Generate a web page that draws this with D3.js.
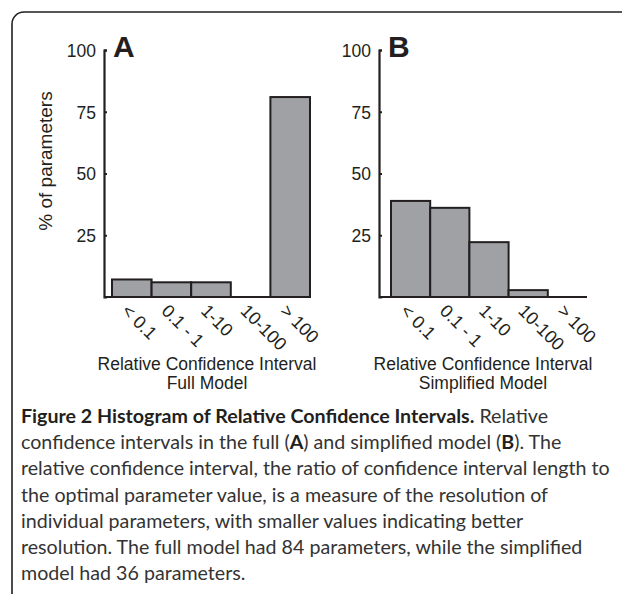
<!DOCTYPE html>
<html>
<head>
<meta charset="utf-8">
<script src="https://cdn.jsdelivr.net/npm/d3@7"></script>
<style>
  html, body { margin: 0; padding: 0; background: #fff; }
  svg { display: block; }
</style>
</head>
<body>
<div id="chart"></div>
<script>
// histogram bins (relative confidence interval)
const categories = ["< 0.1", "0.1 - 1", "1-10", "10-100", "> 100"];
// % of parameters per bin
const fullModel = [7.1, 5.95, 5.95, 0, 80.95];
const simplifiedModel = [38.9, 36.1, 22.2, 2.78, 0];
const yTicks = [25, 50, 75, 100];

const captionLines = [
  [["Figure 2 Histogram of Relative Confidence Intervals.", true], [" Relative", false]],
  [["confidence intervals in the full (", false], ["A", true], [") and simplified model (", false], ["B", true], ["). The", false]],
  [["relative confidence interval, the ratio of confidence interval length to", false]],
  [["the optimal parameter value, is a measure of the resolution of", false]],
  [["individual parameters, with smaller values indicating better", false]],
  [["resolution. The full model had 84 parameters, while the simplified", false]],
  [["model had 36 parameters.", false]]
];

const width = 622, height = 596;
const ink = "#231f20";
const chartFont = "'Liberation Sans', Arial, sans-serif";

let svg = d3.select("#chart").append("svg")
    .attr("width", width)
    .attr("height", height);

// frame with rounded top-left corner
svg.append("path")
    .attr("d", "M12,594 V24 A12,12 0 0 1 24,12 H622")
    .attr("fill", "none")
    .attr("stroke", ink)
    .attr("stroke-width", 1.6);

let y = d3.scaleLinear().domain([0, 100]).range([297, 50]);

function drawPanel(values, axisX, barStart, barEnd, letter, subtitle, withYLabel) {
    let g = svg.append("g");
    let x = d3.scaleBand().domain(categories).range([barStart, barEnd]).padding(0);

    // bars
    g.selectAll("rect")
        .data(values.map((v, i) => ({ cat: categories[i], v: v })).filter(d => d.v > 0))
        .enter().append("rect")
        .attr("x", d => x(d.cat))
        .attr("y", d => y(d.v))
        .attr("width", x.bandwidth())
        .attr("height", d => y(0) - y(d.v))
        .attr("fill", "#a0a1a5")
        .attr("stroke", ink)
        .attr("stroke-width", 2);

    // baseline
    g.append("line")
        .attr("x1", axisX).attr("x2", barEnd)
        .attr("y1", y(0)).attr("y2", y(0))
        .attr("stroke", ink).attr("stroke-width", 2.2);

    // y axis, ticks point inward
    let yAxis = d3.axisLeft(y).tickValues(yTicks).tickSizeInner(-3).tickSizeOuter(-3).tickPadding(8);
    let ax = g.append("g")
        .attr("transform", "translate(" + axisX + ",0)")
        .call(yAxis);
    ax.select(".domain").attr("stroke", ink).attr("stroke-width", 2.2);
    ax.selectAll(".tick line").attr("stroke", ink).attr("stroke-width", 2);
    ax.selectAll(".tick text")
        .attr("font-family", chartFont)
        .attr("font-size", 17.5)
        .attr("fill", ink)
        .attr("dy", "0.36em");

    // rotated bin labels
    g.selectAll(".bin")
        .data(categories)
        .enter().append("text")
        .attr("class", "bin")
        .attr("transform", d => "translate(" + (x(d) + x.bandwidth() / 2 - 11) + "," + (y(0) + 15) + ") rotate(45)")
        .attr("font-family", chartFont)
        .attr("font-size", 18)
        .attr("fill", ink)
        .text(d => d);

    // panel letter
    g.append("text")
        .attr("x", axisX + 9)
        .attr("y", 57)
        .attr("font-family", chartFont)
        .attr("font-weight", "bold")
        .attr("font-size", 30)
        .attr("fill", ink)
        .text(letter);

    let cx = (axisX + barEnd) / 2;
    g.append("text")
        .attr("x", cx).attr("y", 370)
        .attr("text-anchor", "middle")
        .attr("font-family", chartFont)
        .attr("font-size", 17.5)
        .attr("fill", ink)
        .text("Relative Confidence Interval");
    g.append("text")
        .attr("x", cx).attr("y", 389)
        .attr("text-anchor", "middle")
        .attr("font-family", chartFont)
        .attr("font-size", 17.5)
        .attr("fill", ink)
        .text(subtitle);

    if (withYLabel) {
        g.append("text")
            .attr("transform", "translate(52,161) rotate(-90)")
            .attr("text-anchor", "middle")
            .attr("font-family", chartFont)
            .attr("font-size", 19)
            .attr("fill", ink)
            .text("% of parameters");
    }
}

drawPanel(fullModel, 104, 112, 310, "A", "Full Model", true);
drawPanel(simplifiedModel, 379, 391, 587, "B", "Simplified Model", false);

// caption
let capFont = "Lato, 'Open Sans', sans-serif";
let caption = svg.append("g").attr("font-family", capFont);
let lineEls = captionLines.map((parts, i) => {
    let t = caption.append("text")
        .attr("x", 21)
        .attr("y", 423 + i * 26.2)
        .attr("font-size", 18);
    parts.forEach(p => {
        t.append("tspan")
            .attr("font-weight", p[1] ? "bold" : "normal")
            .attr("fill", p[1] ? ink : "#333")
            .text(p[0]);
    });
    return t;
});
// fit the longest line to the width seen in the figure
let w = lineEls[2].node().getComputedTextLength();
let fs = 18 * 589 / w;
lineEls.forEach(t => t.attr("font-size", fs));
</script>
</body>
</html>
